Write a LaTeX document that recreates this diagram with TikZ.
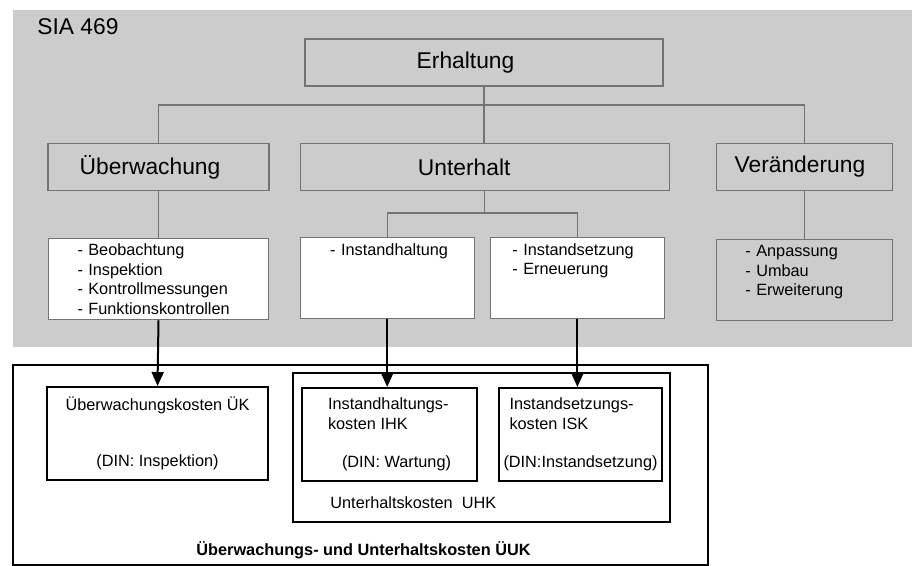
\documentclass[tikz,border=0pt]{standalone}
\usepackage{fontspec}
\setmainfont{Liberation Sans}
\usetikzlibrary{arrows.meta,positioning}
\tikzset{
  hbox/.style ={draw=black!55, line width=0.6pt, fill=black!20, minimum height=23.5pt,
                font=\fontsize{11.4}{13.7}\selectfont},
  lbox/.style ={draw=black!55, line width=0.6pt, fill=white, minimum height=40.5pt,
                inner ysep=1pt, align=left, font=\fontsize{8.15}{9.7}\selectfont},
  glbox/.style={lbox, fill=black!20},
  kbox/.style ={draw=black, line width=1pt, fill=white, minimum height=46.5pt,
                inner xsep=1.5pt, font=\fontsize{8.15}{9.8}\selectfont},
  frame/.style={draw=black, line width=1pt, inner sep=0pt},
  lbl/.style  ={font=\fontsize{8.15}{9.8}\selectfont, inner sep=0pt},
  ln/.style   ={draw=black!55, line width=0.6pt},
  ar/.style   ={-{Triangle[length=7pt,width=6pt]}, line width=1pt},
}
\begin{document}
\begin{tikzpicture}[x=0.5pt,y=-0.5pt]
\useasboundingbox (0,0) rectangle (914,566);
\fill[black!20] (13,10) rectangle (912,347);
\node[lbl, anchor=west, font=\fontsize{11.4}{13.7}\selectfont] (sia) at (37,27) {SIA 469};
% SIA tree
\node[hbox, minimum width=179pt] (erh) at (484,62.5) {Erhaltung\hspace*{18.5pt}};
\node[hbox, minimum width=110.5pt] (ueb) at (158.5,167) {Überwachung\hspace*{8.5pt}};
\node[hbox, minimum width=184.5pt, right=15pt of ueb] (unt) {Unterhalt\hspace*{20.5pt}};
\node[hbox, minimum width=88pt, right=23pt of unt] (ver) {Veränderung\hspace*{4.5pt}};
\node[lbox, minimum width=110pt, text width=81pt, below=23.5pt of ueb] (ueblist)
  {- Beobachtung\\- Inspektion\\- Kontrollmessungen\\- Funktionskontrollen};
\node[lbox, minimum width=87pt, text width=57pt, below right=23pt and 0pt of unt.south west] (ihlist)
  {\mbox{- Instandhaltung}\\\mbox{}\\\mbox{}\\\mbox{}};
\node[lbox, minimum width=87pt, text width=65pt, right=7.5pt of ihlist] (islist)
  {- Instandsetzung\\- Erneuerung\\\mbox{}\\\mbox{}};
\node[glbox, minimum width=88pt, text width=59pt, below=24pt of ver] (verlist)
  {- Anpassung\\- Umbau\\- Erweiterung\\\mbox{}};
\coordinate (bus) at (0,105);
\coordinate (bus2) at (0,213);
\draw[ln] (erh.south) -- (erh.south |- unt.north);
\draw[ln] (ueb.north) |- (ver.north |- bus) -- (ver.north);
\draw[ln] (ueb) -- (ueblist);
\draw[ln] (ver) -- (verlist);
\draw[ln] (unt.south) -- (unt.south |- bus2);
\draw[ln] (ihlist.north) |- (islist.north |- bus2) -- (islist.north);
% cost boxes
\node[frame, minimum width=347.5pt, minimum height=100pt] (uuk) at (360.5,465) {};
\node[frame, minimum width=188.5pt, minimum height=74.5pt] (uhk) at (481.5,447.5) {};
\node[kbox, minimum width=110.5pt, align=center] (uek) at (157.5,433.5)
  {Überwachungskosten ÜK\\[18.5pt](DIN: Inspektion)};
\node[kbox, minimum width=87.5pt, align=left] (ihk) at (389.5,434.5)
  {Instandhaltungs-\\kosten IHK\\[9.5pt]\hspace*{7pt}(DIN: Wartung)};
\node[kbox, minimum width=81.5pt, align=left] (isk) at (580.5,434.5)
  {\hspace*{3pt}Instandsetzungs-\\\hspace*{3pt}kosten ISK\\[9.5pt](DIN:Instandsetzung)};
\node[lbl, anchor=west] (uhklbl) at (330,503) {Unterhaltskosten\ \ UHK};
\node[lbl, font=\bfseries\fontsize{8.15}{9.8}\selectfont] (uuklbl) at (363.5,550)
  {Überwachungs- und Unterhaltskosten ÜUK};
\draw[ar] (ueblist.south) -- (uek.north);
\draw[ar] (ihlist.south) -- (ihlist.south |- ihk.north);
\draw[ar] (islist.south) -- (islist.south |- isk.north);
\end{tikzpicture}
\end{document}
